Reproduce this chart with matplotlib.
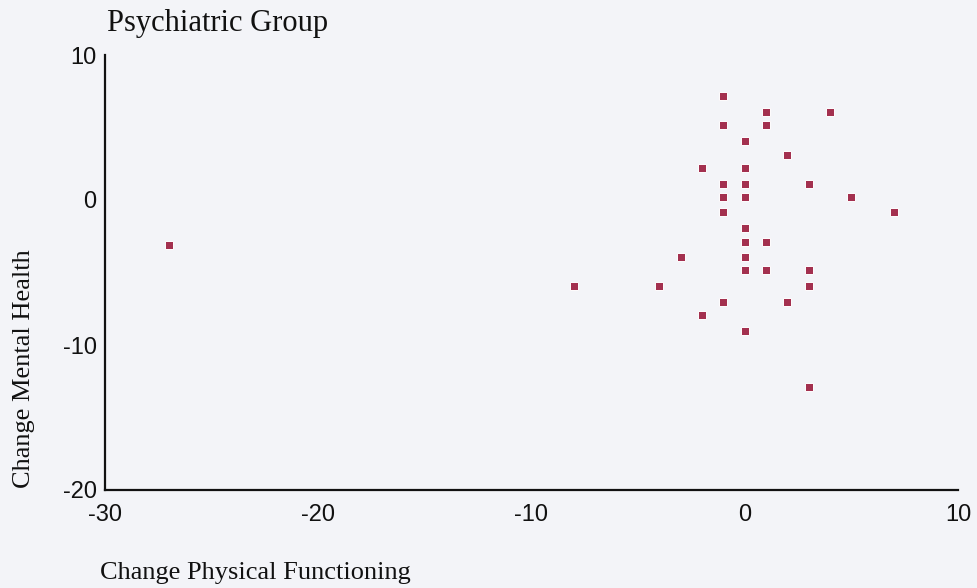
import matplotlib
matplotlib.use("Agg")
import matplotlib.pyplot as plt

# Data
phys_change = [-1, 1, 4, -1, 1, 0, 2, -2, 0, -1, 0, 3, -1, 0, 5, -1, 7,
               0, 0, 1, -3, 0, 0, 1, 3, -4, 3, -8, -1, 2, -2, 0, 3, -27]
mental_change = [7.2, 6.1, 6.1, 5.2, 5.2, 4.1, 3.1, 2.2, 2.2, 1.1, 1.1, 1.1,
                 0.2, 0.2, 0.2, -0.85, -0.85, -1.9, -2.9, -2.9, -3.9, -3.9,
                 -4.8, -4.8, -4.8, -5.9, -5.9, -5.9, -7.0, -7.0, -7.9, -9.0,
                 -12.9, -3.1]
x_ticks = [-30, -20, -10, 0, 10]
y_ticks = [-20, -10, 0, 10]

title = "Psychiatric Group"
xlabel = "Change Physical Functioning"
ylabel = "Change Mental Health"

bg = "#f3f4f8"
W, H = 978, 588
fig = plt.figure(figsize=(W / 100, H / 100), dpi=100, facecolor=bg)
ax = fig.add_axes([105 / W, 1 - 490 / H, (958 - 105) / W, (490 - 55) / H])
ax.set_facecolor(bg)

ax.plot(phys_change, mental_change, linestyle="none", marker="s",
        markersize=5.5, markerfacecolor="#a3304f", markeredgecolor="white",
        markeredgewidth=0.7)

ax.set_xlim(-30, 10)
ax.set_ylim(-20, 10)
ax.set_xticks(x_ticks)
ax.set_yticks(y_ticks)
ax.set_xticklabels([str(t) for t in x_ticks])
ax.set_yticklabels([str(t) for t in y_ticks])
for s in ["top", "right"]:
    ax.spines[s].set_visible(False)
for s in ["left", "bottom"]:
    ax.spines[s].set_linewidth(1.6)
    ax.spines[s].set_color("#111111")
ax.tick_params(axis="both", length=0, labelsize=17, colors="#111111")
ax.tick_params(axis="x", pad=10)
ax.tick_params(axis="y", pad=6)
for lab in ax.get_xticklabels() + ax.get_yticklabels():
    lab.set_fontfamily("Liberation Sans")

fig.text(107 / W, 1 - 23 / H, title, family="Liberation Serif", fontsize=22,
         ha="left", va="center", color="#111111")
fig.text(100 / W, 1 - 573 / H, xlabel, family="Liberation Serif", fontsize=19,
         ha="left", va="center", color="#111111")
fig.text(24 / W, 1 - 369 / H, ylabel, family="Liberation Serif", fontsize=19,
         ha="center", va="center", rotation=90, color="#111111")

fig.savefig("out.png", dpi=100, facecolor=bg)
